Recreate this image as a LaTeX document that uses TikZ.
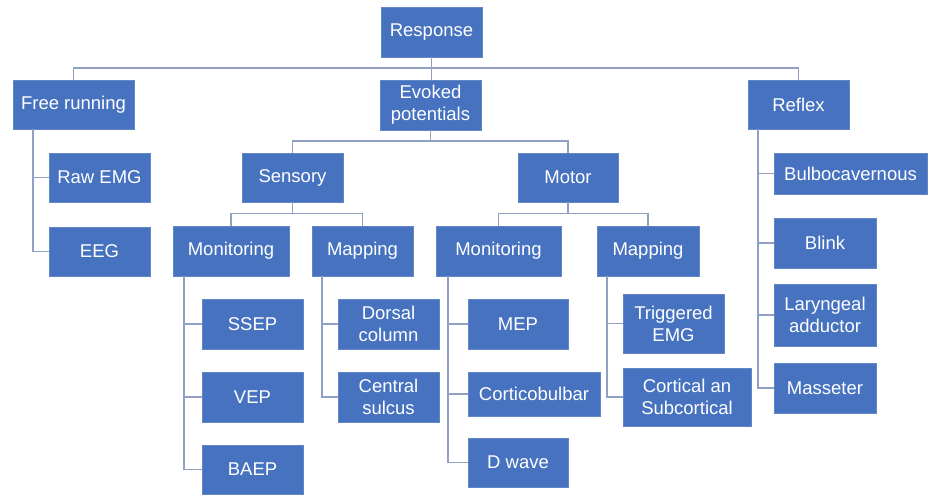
\documentclass[tikz,border=0pt]{standalone}
\usepackage{fontspec}
\setmainfont{Liberation Sans}
\definecolor{boxblue}{RGB}{70,114,192}
\definecolor{linecol}{RGB}{143,160,194}
\begin{document}
\begin{tikzpicture}[x=1pt,y=-1pt,
  box/.style={fill=boxblue,draw=boxblue!85!white,line width=0.6pt,text=white,inner sep=0pt,align=center,
    font=\fontsize{18.5}{22}\selectfont},
  conn/.style={draw=linecol,line width=1.8pt}]
\useasboundingbox (0,0) rectangle (933,495);
\fill[white] (0,0) rectangle (933,495);
% level 0/1
\node[box,minimum width=101pt,minimum height=50pt] (resp) at (431.5,32) {Response};
\node[box,minimum width=121pt,minimum height=49pt] (free) at (73.5,104.5) {Free running};
\node[box,minimum width=101pt,minimum height=50pt] (evoked) at (430.5,105) {Evoked\\potentials};
\node[box,minimum width=101pt,minimum height=49pt] (reflex) at (798.5,104.5) {Reflex};
% free running children
\node[box,minimum width=101pt,minimum height=49pt] (rawemg) at (99.5,177.5) {Raw EMG};
\node[box,minimum width=101pt,minimum height=49pt] (eeg) at (99.5,251.5) {EEG};
% evoked children
\node[box,minimum width=101pt,minimum height=49pt] (sensory) at (292.5,177.5) {Sensory};
\node[box,minimum width=100pt,minimum height=49pt] (motor) at (568,177.5) {Motor};
\node[box,minimum width=116pt,minimum height=50pt] (mons) at (231,251) {Monitoring};
\node[box,minimum width=101pt,minimum height=50pt] (maps) at (362.5,251) {Mapping};
\node[box,minimum width=125pt,minimum height=50pt] (monm) at (498.5,251) {Monitoring};
\node[box,minimum width=102pt,minimum height=50pt] (mapm) at (648,251) {Mapping};
% sensory leaves
\node[box,minimum width=101pt,minimum height=50pt] (ssep) at (252.5,324) {SSEP};
\node[box,minimum width=101pt,minimum height=50pt] (vep) at (252.5,397) {VEP};
\node[box,minimum width=101pt,minimum height=49pt] (baep) at (252.5,469.5) {BAEP};
\node[box,minimum width=101pt,minimum height=50pt] (dorsal) at (388.5,324) {Dorsal\\column};
\node[box,minimum width=101pt,minimum height=50pt] (central) at (388.5,397) {Central\\sulcus};
% motor leaves
\node[box,minimum width=100pt,minimum height=50pt] (mep) at (518,324) {MEP};
\node[box,minimum width=132pt,minimum height=44pt] (cortico) at (534,394) {Corticobulbar};
\node[box,minimum width=100pt,minimum height=49pt] (dwave) at (518,462.5) {D wave};
\node[box,minimum width=101pt,minimum height=59pt] (trig) at (673.5,323.5) {Triggered\\EMG};
\node[box,minimum width=128pt,minimum height=58pt] (cortical) at (687,397) {Cortical an\\Subcortical};
% reflex leaves
\node[box,minimum width=153pt,minimum height=41pt] (bulbo) at (850.5,173.5) {Bulbocavernous};
\node[box,minimum width=102pt,minimum height=50pt] (blink) at (825,243) {Blink};
\node[box,minimum width=102pt,minimum height=62pt] (laryn) at (825,315) {Laryngeal\\adductor};
\node[box,minimum width=102pt,minimum height=50pt] (masseter) at (825,388) {Masseter};
% bus coordinates
\coordinate (b0) at (0,68);
\coordinate (b1) at (0,141);
\coordinate (b2) at (0,213.5);
% top level connectors
\draw[conn] (resp.south) -- (resp.south |- evoked.north);
\draw[conn] (free.north) -- (free.north |- b0) -- (reflex.north |- b0) -- (reflex.north);
% evoked
\draw[conn] (evoked.south) -- (evoked.south |- b1);
\draw[conn] (sensory.north) -- (sensory.north |- b1) -- (motor.north |- b1) -- (motor.north);
% sensory
\draw[conn] (sensory.south) -- (sensory.south |- b2);
\draw[conn] (mons.north) -- (mons.north |- b2) -- (maps.north |- b2) -- (maps.north);
% motor
\draw[conn] (motor.south) -- (motor.south |- b2);
\draw[conn] (monm.north) -- (monm.north |- b2) -- (mapm.north |- b2) -- (mapm.north);
% side branches
\draw[conn] ([xshift=20pt]free.south west) |- (eeg.west);
\draw[conn] ([xshift=20pt]free.south west) |- (rawemg.west);
\draw[conn] ([xshift=11pt]mons.south west) |- (baep.west);
\draw[conn] ([xshift=11pt]mons.south west) |- (vep.west);
\draw[conn] ([xshift=11pt]mons.south west) |- (ssep.west);
\draw[conn] ([xshift=10pt]maps.south west) |- (central.west);
\draw[conn] ([xshift=10pt]maps.south west) |- (dorsal.west);
\draw[conn] ([xshift=12pt]monm.south west) |- (dwave.west);
\draw[conn] ([xshift=12pt]monm.south west) |- (cortico.west);
\draw[conn] ([xshift=12pt]monm.south west) |- (mep.west);
\draw[conn] ([xshift=10pt]mapm.south west) |- (cortical.west);
\draw[conn] ([xshift=10pt]mapm.south west) |- (trig.west);
\draw[conn] ([xshift=10pt]reflex.south west) |- (masseter.west);
\draw[conn] ([xshift=10pt]reflex.south west) |- (laryn.west);
\draw[conn] ([xshift=10pt]reflex.south west) |- (blink.west);
\draw[conn] ([xshift=10pt]reflex.south west) |- (bulbo.west);
\end{tikzpicture}
\end{document}
